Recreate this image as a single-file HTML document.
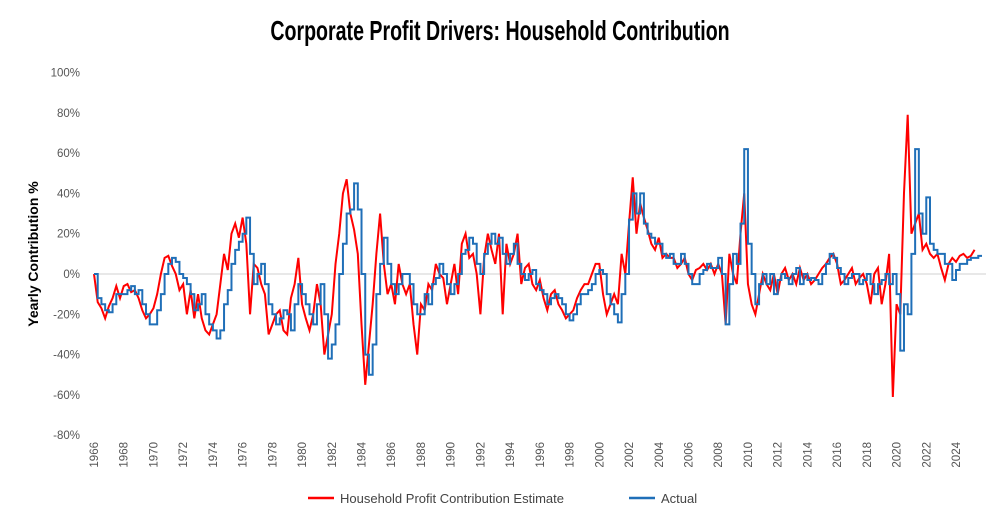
<!DOCTYPE html>
<html><head><meta charset="utf-8"><style>
body{margin:0;background:#fff;font-family:"Liberation Sans",sans-serif}
</style></head><body>
<svg id="chart" width="996" height="527" viewBox="0 0 996 527" xmlns="http://www.w3.org/2000/svg">
<text transform="translate(500,40) scale(0.7,1)" text-anchor="middle" font-family="'Liberation Sans',sans-serif" font-weight="bold" font-size="28" fill="#000">Corporate Profit Drivers: Household Contribution</text>
<text transform="translate(38,254) rotate(-90)" text-anchor="middle" font-weight="bold" font-size="14" fill="#000">Yearly Contribution %</text>
<g id="yticks"></g><g id="xticks"></g>
<line x1="94" x2="986" y1="274" y2="274" stroke="#d0d0d0" stroke-width="1"/>
<g id="series"></g>
<g>
<line x1="308" x2="334" y1="498" y2="498" stroke="#ff0000" stroke-width="2.5"/>
<text x="340" y="503" font-size="13" fill="#444">Household Profit Contribution Estimate</text>
<line x1="629" x2="655" y1="498" y2="498" stroke="#1f6fb8" stroke-width="2.5"/>
<text x="661" y="503" font-size="13" fill="#444">Actual</text>
</g>
</svg>
<script>
const yTicks=[100,80,60,40,20,0,-20,-40,-60,-80];
const xYears=[1966,1968,1970,1972,1974,1976,1978,1980,1982,1984,1986,1988,1990,1992,1994,1996,1998,2000,2002,2004,2006,2008,2010,2012,2014,2016,2018,2020,2022,2024];
const actual=[0,-12,-15,-18,-19,-15,-10,-10,-10,-8,-6,-10,-8,-15,-20,-25,-25,-18,-10,0,5,8,6,0,-2,-5,-10,-18,-15,-10,-20,-25,-28,-32,-28,-15,-8,5,12,16,20,28,10,-5,0,5,-5,-15,-20,-25,-22,-18,-20,-28,-15,-5,-10,-15,-20,-25,-15,-5,-20,-42,-35,-25,0,15,30,32,45,32,0,-40,-50,-35,-10,5,18,5,-5,-10,-5,0,0,-5,-15,-20,-20,-10,-15,-5,-2,5,0,-5,-10,-5,0,10,12,18,15,5,0,10,15,20,15,18,10,5,10,15,5,0,-3,0,2,-5,-8,-10,-15,-12,-10,-12,-15,-20,-23,-20,-15,-10,-10,-8,-5,0,2,0,-10,-15,-20,-24,-10,0,27,40,30,40,25,20,18,15,15,10,8,10,5,5,10,5,0,-5,-5,0,2,5,3,3,8,0,-25,-5,10,5,25,62,15,0,-15,-5,0,-5,0,-10,-3,0,-2,-5,0,3,-5,0,-3,-2,-3,-5,0,5,10,8,3,0,-5,-2,0,0,-5,-3,0,-5,-10,-5,-3,0,-5,0,-10,-38,-15,-20,10,62,30,20,38,15,12,10,10,5,5,-3,2,5,5,7,8,8,9,9];
const estimate=[0,-14,-17,-22,-16,-12,-6,-12,-6,-5,-9,-8,-12,-18,-22,-20,-17,-10,0,8,9,4,0,-8,-5,-20,-8,-22,-10,-22,-28,-30,-25,-20,-5,10,2,20,25,18,28,15,-20,5,3,-5,-10,-30,-25,-20,-18,-28,-30,-12,-5,8,-15,-22,-28,-20,-5,-15,-40,-30,-20,5,20,40,47,30,22,10,-25,-55,-35,-15,10,30,5,-10,-5,-15,5,-5,-10,-5,-25,-40,-15,-18,-5,-8,5,0,-2,-15,-5,5,-10,15,20,8,10,0,-20,8,20,12,5,20,-20,15,5,10,20,-5,3,5,-5,-8,-3,-12,-18,-10,-8,-15,-18,-22,-20,-18,-12,-8,-5,-5,0,5,5,-10,-20,-15,-10,-15,10,0,25,48,20,35,28,22,15,12,18,8,10,8,8,3,5,8,0,-3,2,3,5,2,5,0,5,0,-25,10,0,-5,20,40,-5,-15,-20,-10,0,-5,-8,0,-10,0,3,-3,0,-5,3,-3,0,-5,-3,0,3,5,8,10,5,-5,-3,0,3,-5,-2,0,-5,-15,0,3,-15,-5,10,-61,-15,-20,40,79,20,25,30,12,15,10,8,10,3,-3,5,8,6,9,10,8,9,12];
const X0=94,X1=956,Y0=274,PX=2.015;
const xs=t=>X0+(t-1966)*(X1-X0)/58;
const ys=v=>Y0-v*PX;
const NS="http://www.w3.org/2000/svg";
const yg=document.getElementById('yticks');
yTicks.forEach(v=>{const t=document.createElementNS(NS,'text');


t.setAttribute('x',80);t.setAttribute('y',ys(v)+4);t.setAttribute('text-anchor','end');t.setAttribute('font-size','11.5');t.setAttribute('fill','#555');t.textContent=v+'%';yg.appendChild(t);});
const xg=document.getElementById('xticks');
xYears.forEach(yr=>{const t=document.createElementNS(NS,'text');


const x=xs(yr)+4;t.setAttribute('transform','translate('+x+',442) rotate(-90)');t.setAttribute('text-anchor','end');t.setAttribute('font-size','11.5');t.setAttribute('fill','#555');t.textContent=yr;xg.appendChild(t);});
const sg=document.getElementById('series');
function pathFor(arr,step){let d='';arr.forEach((v,i)=>{const x=xs(1966+i/4),y=ys(v);
if(i===0)d+='M'+x+' '+y;else if(step)d+='H'+x+'V'+y;else d+='L'+x+' '+y;});return d;}
const pe=document.createElementNS(NS,'path');


pe.setAttribute('d',pathFor(estimate,false));pe.setAttribute('fill','none');pe.setAttribute('stroke','#ff0000');pe.setAttribute('stroke-width','2');sg.appendChild(pe);
const pa=document.createElementNS(NS,'path');


pa.setAttribute('d',pathFor(actual,true));pa.setAttribute('fill','none');pa.setAttribute('stroke','#1f6fb8');pa.setAttribute('stroke-width','2');sg.appendChild(pa);
</script>
</body></html>
